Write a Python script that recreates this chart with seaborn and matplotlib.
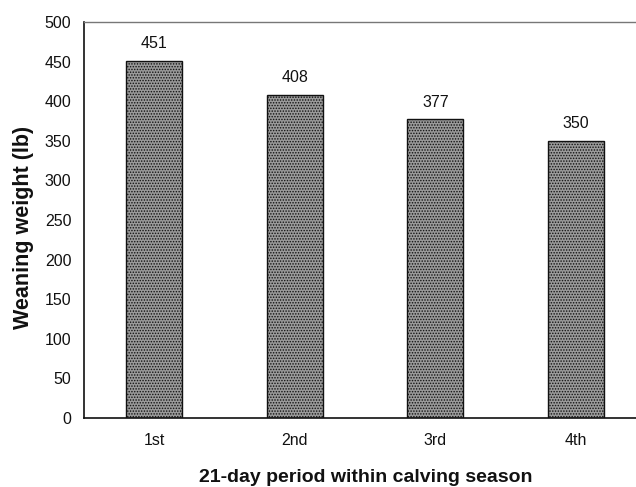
import matplotlib
matplotlib.use('Agg')
import matplotlib.pyplot as plt
import seaborn as sns
import pandas as pd

periods = ['1st', '2nd', '3rd', '4th']
weights = [451, 408, 377, 350]

sns.set_style('white')
plt.rcParams['font.family'] = ['Liberation Sans', 'DejaVu Sans']
plt.rcParams['hatch.color'] = '#4a4a4a'
plt.rcParams['hatch.linewidth'] = 0.7

df = pd.DataFrame({'period': periods, 'weight': weights})

fig = plt.figure(figsize=(6.36, 4.87), dpi=100)
ax = fig.add_axes([0.132, 0.1417, 0.884, 0.8131])

sns.barplot(data=df, x='period', y='weight', color='#9a9a9a', width=0.40,
            edgecolor='#111111', linewidth=1.0, saturation=1, ax=ax)
for p in ax.patches:
    p.set_hatch('......')

for i, w in enumerate(weights):
    ax.text(i, w + 12, str(w), ha='center', va='bottom', fontsize=11.5, color='#111111')

ax.set_xlim(-0.5, 3.5)
ax.set_ylim(0, 500)
ax.set_yticks(range(0, 501, 50))
ax.set_xticks([0.5, 1.5, 2.5], minor=False)
ax.set_xticklabels([])
ax.set_xticks(range(4), minor=True)
ax.set_xticklabels(periods, minor=True)
ax.tick_params(axis='x', which='major', length=5, width=1, direction='out', color='#333333')
ax.tick_params(axis='x', which='minor', length=0, labelsize=11.5, pad=11, colors='#111111')
ax.tick_params(axis='y', length=4, width=1, direction='out', labelsize=11.5, colors='#111111', pad=5)
ax.tick_params(axis='y', color='#333333')

for s in ['left', 'bottom']:
    ax.spines[s].set_color('#111111')
    ax.spines[s].set_linewidth(1.2)
ax.spines['top'].set_color('#777777')
ax.spines['top'].set_linewidth(1.0)
ax.spines['right'].set_visible(False)

ax.set_ylabel('Weaning weight (lb)', fontsize=15.5, fontweight='bold', color='#111111')
ax.yaxis.set_label_coords(-0.088, 0.48)
ax.set_xlabel('21-day period within calving season', fontsize=14, fontweight='bold', color='#111111')
ax.xaxis.set_label_coords(0.502, -0.128)

fig.savefig('out.png', dpi=100)
